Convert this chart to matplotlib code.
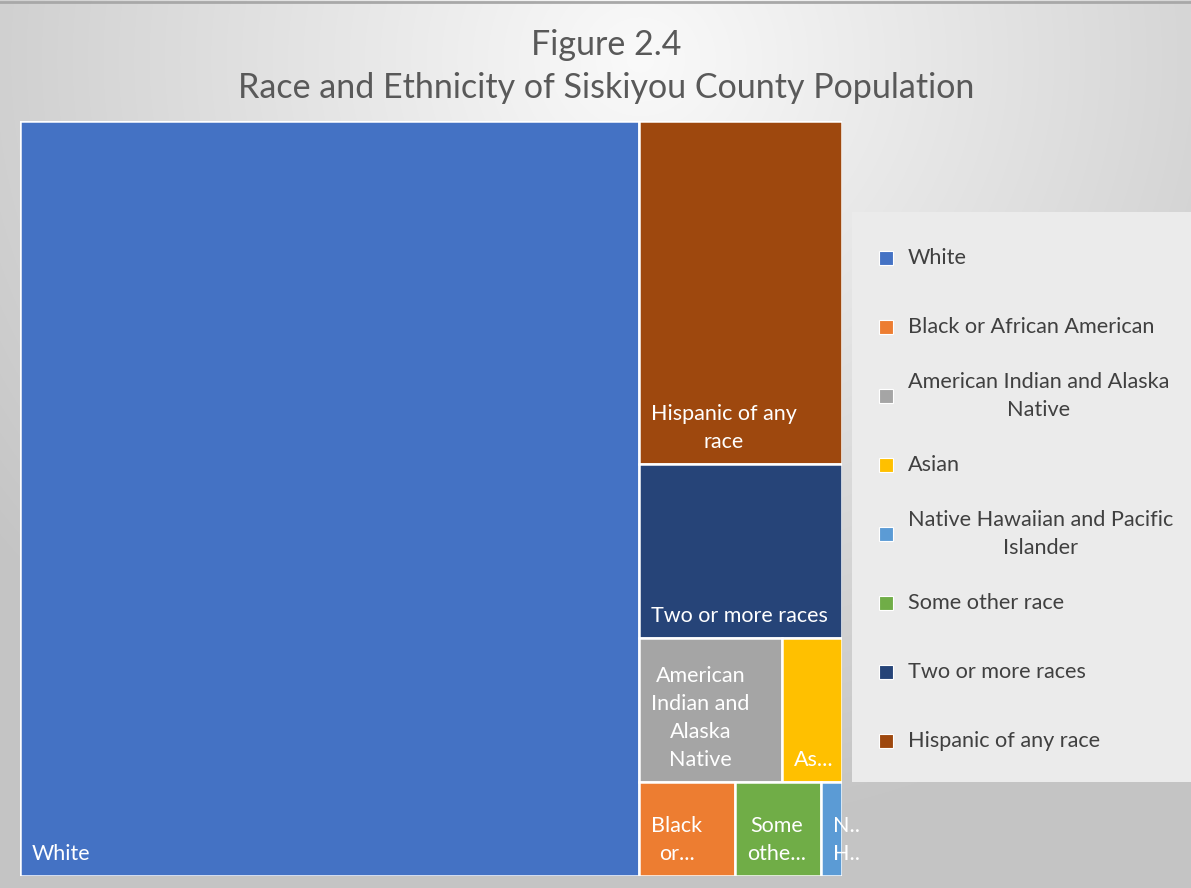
"""
Treemap of the race and ethnicity breakdown for Siskiyou County.
Saved to out.png
"""

import textwrap

import numpy as np
import matplotlib.pyplot as plt
from matplotlib.patches import Rectangle

plt.rcParams["font.family"] = ["Lato", "DejaVu Sans"]

# ---------------------------------------------------------------------------
# data (percent of population)
# ---------------------------------------------------------------------------

groups = [
    "White",
    "Black or African American",
    "American Indian and Alaska Native",
    "Asian",
    "Native Hawaiian and Pacific Islander",
    "Some other race",
    "Two or more races",
    "Hispanic of any race",
]
shares = [75.3, 1.45, 3.3, 1.4, 0.32, 1.3, 5.7, 11.2]
colors = ["#4472C4", "#ED7D31", "#A5A5A5", "#FFC000",
          "#5B9BD5", "#70AD47", "#264478", "#9E480E"]

# tile labels as they fit inside each cell
tile_labels = {
    "White": "White",
    "Hispanic of any race": "Hispanic of any\nrace",
    "Two or more races": "Two or more races",
    "American Indian and Alaska Native": "American\nIndian and\nAlaska\nNative",
    "Asian": "As...",
    "Black or African American": "Black\nor...",
    "Some other race": "Some\nothe...",
    "Native Hawaiian and Pacific Islander": "N..\nH..",
}

# strips of the treemap, largest first
strips = [
    ["White"],
    ["Hispanic of any race"],
    ["Two or more races"],
    ["American Indian and Alaska Native", "Asian"],
    ["Black or African American", "Some other race",
     "Native Hawaiian and Pacific Islander"],
]

value = dict(zip(groups, shares))
color = dict(zip(groups, colors))


def layout(strips, W, H):
    """First strip takes a full-height column on the left, the rest are
    stacked top to bottom in the remaining column."""
    total = sum(value[g] for s in strips for g in s)
    rects = {}
    first = strips[0]
    w0 = W * sum(value[g] for g in first) / total
    y = 0.0
    for g in first:
        h = H * value[g] / sum(value[k] for k in first)
        rects[g] = (0.0, y, w0, h)
        y += h
    rest_w = W - w0
    rest_total = total - sum(value[g] for g in first)
    y = 0.0
    for s in strips[1:]:
        s_tot = sum(value[g] for g in s)
        h = H * s_tot / rest_total
        x = w0
        for g in s:
            w = rest_w * value[g] / s_tot
            rects[g] = (x, y, w, h)
            x += w
        y += h
    return rects


FW, FH = 1191, 888
fig = plt.figure(figsize=(FW / 100, FH / 100), dpi=100)

# background gradient
bg = fig.add_axes([0, 0, 1, 1])
bg.set_xlim(0, FW)
bg.set_ylim(FH, 0)
bg.axis("off")
yy, xx = np.mgrid[0:FH, 0:FW]
dx = (xx - 640) / FW
dy = (yy - 60) / FH
r = np.sqrt(dx ** 2 * 1.6 + dy ** 2)
shade = np.clip(0.98 - 0.24 * r, 0.77, 0.98)
bg.imshow(np.dstack([shade] * 3), extent=(0, FW, FH, 0), aspect="auto", zorder=0)
bg.plot([0, FW], [2, 2], color="#a8a8a8", lw=2, zorder=1)

# legend panel
bg.add_patch(Rectangle((852, 212), FW - 852, 570, facecolor="#ebebeb",
                       edgecolor="none", zorder=1))
for i, g in enumerate(groups):
    yc = 258 + 69 * i
    bg.add_patch(Rectangle((879, yc - 7), 14, 14, facecolor=color[g],
                           edgecolor="white", lw=0.8, zorder=2))
    lbl = textwrap.fill(g, 27)
    bg.text(908, yc, lbl, ha="left", va="center", ma="center",
            fontsize=15.6, color="#404040", zorder=3, linespacing=1.5)

# title
bg.text(606, 45, "Figure 2.4", ha="center", va="center", fontsize=24.5,
        color="#595959", zorder=3)
bg.text(606, 88, "Race and Ethnicity of Siskiyou County Population",
        ha="center", va="center", fontsize=24.5, color="#595959", zorder=3)

# treemap
X0, Y0, TW, TH = 20, 121, 822, 755
tm = fig.add_axes([X0 / FW, 1 - (Y0 + TH) / FH, TW / FW, TH / FH])
tm.set_xlim(0, TW)
tm.set_ylim(TH, 0)
tm.axis("off")

rects = layout(strips, TW, TH)
for g, (x, y, w, h) in rects.items():
    tm.add_patch(Rectangle((x, y), w, h, facecolor=color[g],
                           edgecolor="white", lw=1.8))
    tm.text(x + 12, y + h - 12, tile_labels[g], ha="left", va="bottom",
            ma="center", fontsize=15.5, color="white", linespacing=1.5)

fig.savefig("out.png", dpi=100)
plt.close(fig)
